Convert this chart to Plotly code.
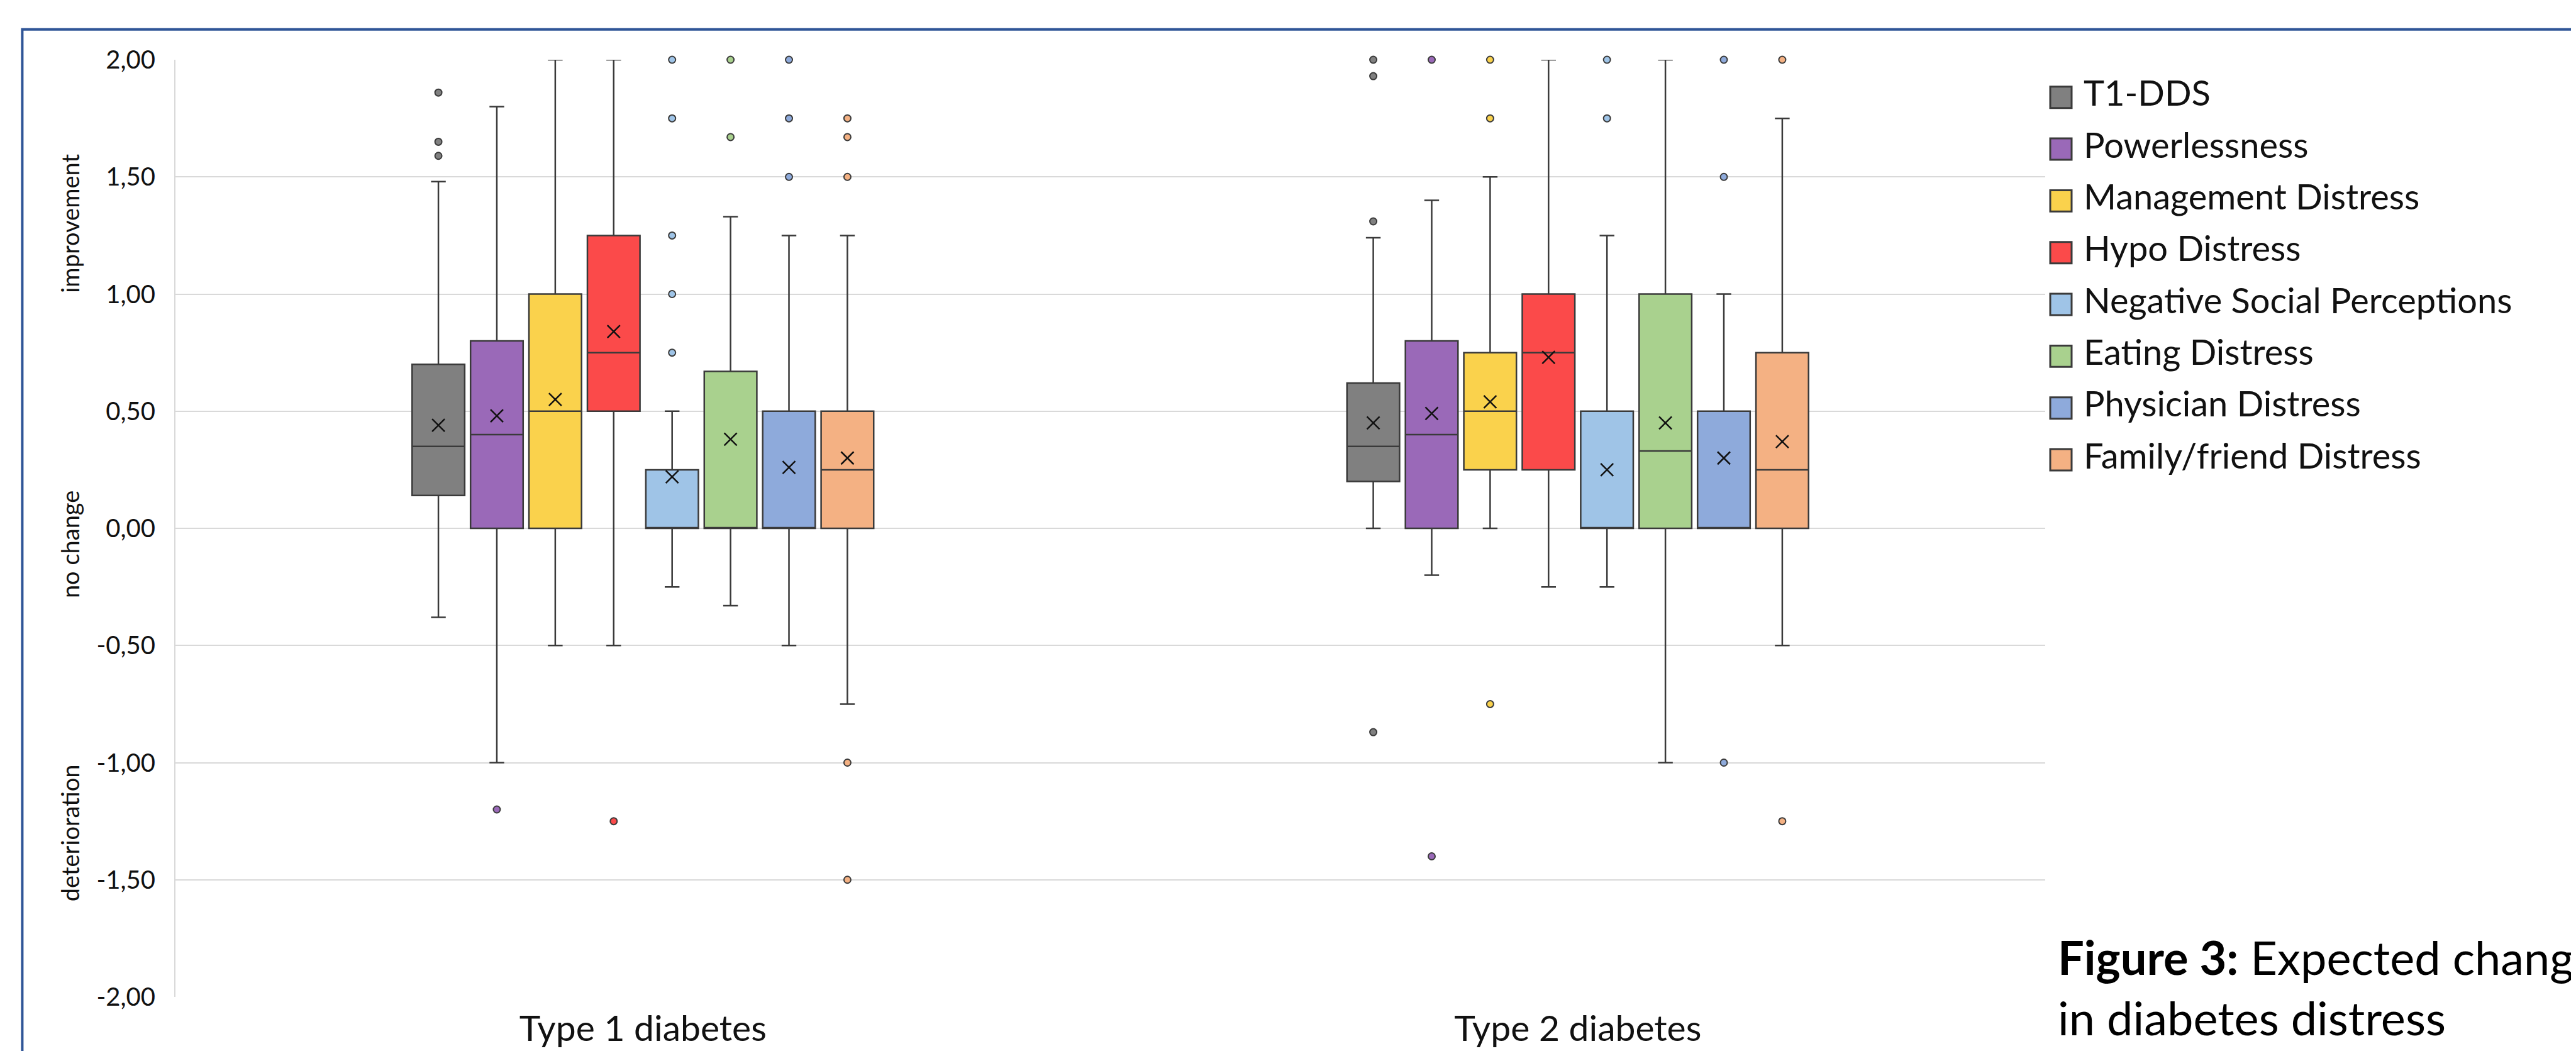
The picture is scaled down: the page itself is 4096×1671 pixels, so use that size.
import plotly.graph_objects as go

# ---------------- data ----------------
groups = ["Type 1 diabetes", "Type 2 diabetes"]
series = ["T1-DDS", "Powerlessness", "Management Distress", "Hypo Distress",
          "Negative Social Perceptions", "Eating Distress", "Physician Distress",
          "Family/friend Distress"]
colors = ["#808080", "#9A69B8", "#FAD24C", "#FB4A4A",
          "#9FC4E7", "#A9D18E", "#8EAADB", "#F4B183"]

# Type 1 diabetes
q1_t1 = [0.14, 0.00, 0.00, 0.50, 0.00, 0.00, 0.00, 0.00]
median_t1 = [0.35, 0.40, 0.50, 0.75, 0.00, 0.00, 0.00, 0.25]
q3_t1 = [0.70, 0.80, 1.00, 1.25, 0.25, 0.67, 0.50, 0.50]
lower_t1 = [-0.38, -1.00, -0.50, -0.50, -0.25, -0.33, -0.50, -0.75]
upper_t1 = [1.48, 1.80, 2.00, 2.00, 0.50, 1.33, 1.25, 1.25]
mean_t1 = [0.44, 0.48, 0.55, 0.84, 0.22, 0.38, 0.26, 0.30]
outliers_t1 = [[1.86, 1.65, 1.59], [-1.20], [], [-1.25],
               [2.00, 1.75, 1.25, 1.00, 0.75], [2.00, 1.67],
               [2.00, 1.75, 1.50], [1.75, 1.67, 1.50, -1.00, -1.50]]

# Type 2 diabetes
q1_t2 = [0.20, 0.00, 0.25, 0.25, 0.00, 0.00, 0.00, 0.00]
median_t2 = [0.35, 0.40, 0.50, 0.75, 0.00, 0.33, 0.00, 0.25]
q3_t2 = [0.62, 0.80, 0.75, 1.00, 0.50, 1.00, 0.50, 0.75]
lower_t2 = [0.00, -0.20, 0.00, -0.25, -0.25, -1.00, 0.00, -0.50]
upper_t2 = [1.24, 1.40, 1.50, 2.00, 1.25, 2.00, 1.00, 1.75]
mean_t2 = [0.45, 0.49, 0.54, 0.73, 0.25, 0.45, 0.30, 0.37]
outliers_t2 = [[2.00, 1.93, 1.31, -0.87], [2.00, -1.40], [2.00, 1.75, -0.75], [],
               [2.00, 1.75], [], [2.00, 1.50, -1.00], [2.00, -1.25]]

y_ticks = [2.0, 1.5, 1.0, 0.5, 0.0, -0.5, -1.0, -1.5, -2.0]
y_tick_labels = ["2,00", "1,50", "1,00", "0,50", "0,00", "-0,50", "-1,00", "-1,50", "-2,00"]

y_titles = ["improvement", "no change", "deterioration"]
y_title_pos = [1.30, -0.07, -1.30]

caption = "<b>Figure 3:</b> Expected change<br>in diabetes distress"

# ---------------- layout geometry ----------------
W, H = 4096, 1671
L, T = 271, 87
R = W - 3244
B = H - 1580
plot_w = W - L - R
plot_h = H - T - B


def px(x):
    return (x - L) / plot_w


def py(y):
    return 1 - (y - T) / plot_h


FONT = "Lato, 'Open Sans', sans-serif"
EDGE = "#3A3A3A"

n = len(series)
group_width = 0.5
slot = group_width / n
box_w = slot * 0.9


def pos(g, j):
    return g + (j - (n - 1) / 2) * slot


fig = go.Figure()

for j, name in enumerate(series):
    xs = [pos(0, j), pos(1, j)]
    fig.add_trace(go.Box(
        name=name, x=xs,
        q1=[q1_t1[j], q1_t2[j]], median=[median_t1[j], median_t2[j]],
        q3=[q3_t1[j], q3_t2[j]],
        lowerfence=[lower_t1[j], lower_t2[j]], upperfence=[upper_t1[j], upper_t2[j]],
        width=box_w, whiskerwidth=0.28,
        fillcolor=colors[j], line=dict(color=EDGE, width=2.5),
        boxpoints=False, showlegend=False, hoverinfo="skip",
    ))
    ox = [pos(0, j)] * len(outliers_t1[j]) + [pos(1, j)] * len(outliers_t2[j])
    oy = outliers_t1[j] + outliers_t2[j]
    fig.add_trace(go.Scatter(
        x=ox, y=oy, mode="markers", cliponaxis=False, showlegend=False,
        marker=dict(symbol="circle", size=11, color=colors[j],
                    line=dict(color=EDGE, width=2)),
        hoverinfo="skip",
    ))
    fig.add_trace(go.Scatter(
        x=xs, y=[mean_t1[j], mean_t2[j]], mode="markers", showlegend=False,
        marker=dict(symbol="x-thin", size=20, color="#111111",
                    line=dict(color="#111111", width=2.5)),
        hoverinfo="skip",
    ))

shapes = []
annotations = []

# frame
shapes.append(dict(type="rect", xref="paper", yref="paper",
                   x0=px(27.4), y0=py(38.7), x1=px(4300), y1=py(1800),
                   line=dict(color="#2F5597", width=4), fillcolor="rgba(0,0,0,0)",
                   layer="above"))

# legend
leg_y0, leg_pitch, sq = 146.8, 82.5, 34
for j, name in enumerate(series):
    cy = leg_y0 + j * leg_pitch
    shapes.append(dict(type="rect", xref="paper", yref="paper",
                       x0=px(3252), x1=px(3252 + sq), y0=py(cy - sq / 2), y1=py(cy + sq / 2),
                       fillcolor=colors[j], line=dict(color=EDGE, width=3)))
    annotations.append(dict(text=name, xref="paper", yref="paper",
                            x=px(3303), y=py(cy - 8), xanchor="left", yanchor="middle",
                            showarrow=False, font=dict(family=FONT, size=56, color="#111111")))

# y titles
for t, v in zip(y_titles, y_title_pos):
    annotations.append(dict(text=t, xref="paper", yref="y", x=px(103), y=v,
                            textangle=-90, xanchor="center", yanchor="middle",
                            showarrow=False, font=dict(family=FONT, size=38, color="#111111")))

# caption
annotations.append(dict(text=caption, xref="paper", yref="paper", x=px(3262), y=py(1470),
                        xanchor="left", yanchor="top", align="left", showarrow=False,
                        font=dict(family=FONT, size=74, color="#000000")))

fig.update_layout(
    width=W, height=H,
    margin=dict(l=L, r=R, t=T, b=B, pad=0),
    paper_bgcolor="white", plot_bgcolor="white",
    showlegend=False,
    shapes=shapes, annotations=annotations,
    xaxis=dict(range=[-0.5, 1.5], tickvals=[0, 1], ticktext=groups,
               showgrid=False, zeroline=False, showline=False, ticks="",
               ticklabelstandoff=12,
               tickfont=dict(family=FONT, size=57, color="#111111")),
    yaxis=dict(range=[-2, 2], tickvals=y_ticks, ticktext=y_tick_labels,
               showgrid=True, gridcolor="#D9D9D9", gridwidth=2,
               zeroline=False, showline=True, linecolor="#D9D9D9", linewidth=2,
               ticks="", ticklabelstandoff=22,
               tickfont=dict(family=FONT, size=40, color="#111111")),
)

fig.write_html("out.html")
